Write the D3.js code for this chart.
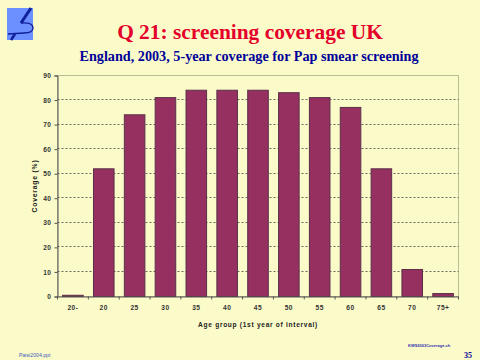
<!DOCTYPE html>
<html><head><meta charset="utf-8">
<script src="https://cdnjs.cloudflare.com/ajax/libs/d3/7.8.5/d3.min.js"></script>
<style>
html,body{margin:0;padding:0;background:#fbfbc9;overflow:hidden}
svg{display:block}
text{font-family:"Liberation Sans",Arial,sans-serif}
.serif{font-family:"Liberation Serif","Times New Roman",serif;font-weight:bold}
</style></head><body>
<svg id="c" width="480" height="360"></svg>
<script>
const categories=["20-","20","25","30","35","40","45","50","55","60","65","70","75+"];
const coverage=[0.5,52,74,81,84,84,84,83,81,77,52,11,1.2];
const yTicks=[0,10,20,30,40,50,60,70,80,90];
const titleText="Q 21: screening coverage UK";
const subtitleText="England, 2003, 5-year coverage for Pap smear screening";
const xLabel="Age group (1st year of interval)";
const yLabel="Coverage (%)";

const svg=d3.select("#c");
const L=57.5,R=458.5,T=75.5,B=296.5;
const x=d3.scaleBand().domain(categories).range([L,R]).paddingInner(1/3).paddingOuter(1/6);
const y=d3.scaleLinear().domain([0,90]).range([B,T]);

// logo
const logo=svg.append("g");
logo.append("rect").attr("x",7).attr("y",8).attr("width",26).attr("height",32).attr("fill","#6c90ff");
logo.append("path").attr("d","M31 8 L21 23").attr("stroke","#10209a").attr("stroke-width",3).attr("fill","none");
logo.append("path").attr("d","M21 23 Q33 22 33 28 Q33 33 24 33 L8 34").attr("stroke","#10209a").attr("stroke-width",1.3).attr("fill","none");
logo.append("path").attr("d","M15 34 L11 40").attr("stroke","#10209a").attr("stroke-width",2.6).attr("fill","none");

svg.append("text").attr("class","serif").attr("x",250).attr("y",39).attr("text-anchor","middle")
  .attr("font-size",21.4).attr("fill","#e4002b").text(titleText);
svg.append("text").attr("class","serif").attr("x",249).attr("y",60.5).attr("text-anchor","middle")
  .attr("font-size",14.2).attr("fill","#000099").text(subtitleText);

// plot frame
svg.append("rect").attr("x",L).attr("y",T).attr("width",R-L).attr("height",B-T)
  .attr("fill","none").attr("stroke","#bdbd95").attr("stroke-width",1);

// gridlines
svg.append("g").selectAll("line").data(yTicks.filter(d=>d>0&&d<90)).join("line")
  .attr("x1",L).attr("x2",R).attr("y1",d=>Math.round(y(d))-.5).attr("y2",d=>Math.round(y(d))-.5)
  .attr("stroke","#444").attr("stroke-width",.8).attr("stroke-dasharray","2 2");

// bars
svg.append("g").selectAll("rect").data(coverage).join("rect")
  .attr("x",(d,i)=>x(categories[i])).attr("width",x.bandwidth())
  .attr("y",d=>y(d)).attr("height",d=>y(0)-y(d))
  .attr("fill","#953060").attr("stroke","#5a3048").attr("stroke-width",1);

// axes
const yAxis=d3.axisLeft(y).tickValues(yTicks).tickSize(3).tickPadding(3);
const gy=svg.append("g").attr("transform",`translate(${L},0)`).call(yAxis);
const xAxis=d3.axisBottom(x).tickSize(0).tickPadding(8.5);
const gx=svg.append("g").attr("transform",`translate(0,${B})`).call(xAxis);
for(const g of [gy,gx]){
  g.selectAll("path.domain").attr("stroke","#555");
  g.selectAll(".tick line").attr("stroke","#555");
  g.selectAll("text").attr("font-size",6.6).attr("font-weight","bold").attr("fill","#333")
   .style("letter-spacing","0.5px").style("font-family",'"Liberation Sans",Arial,sans-serif');
}
// x separators between categories
const step=x.step();
gx.append("g").selectAll("line").data(d3.range(categories.length+1)).join("line")
  .attr("x1",i=>L+i*step).attr("x2",i=>L+i*step).attr("y1",0).attr("y2",3).attr("stroke","#555");

svg.append("text").attr("x",258).attr("y",327).attr("text-anchor","middle")
  .attr("font-size",6.6).attr("font-weight","bold").attr("fill","#222")
  .style("letter-spacing","0.7px").text(xLabel);
svg.append("text").attr("transform","translate(37,186) rotate(-90)").attr("text-anchor","middle")
  .attr("font-size",6.8).attr("font-weight","bold").attr("fill","#222")
  .style("letter-spacing","0.8px").text(yLabel);

// footers
svg.append("text").attr("x",19).attr("y",357).attr("font-size",5.2).attr("fill","#4060c0").text("Paisi2004.ppt");
svg.append("text").attr("x",408).attr("y",347).attr("font-size",4).attr("font-weight","bold").attr("fill","#3030b0").text("KWS2003Coverage.ch");
svg.append("text").attr("class","serif").attr("x",464).attr("y",358).attr("font-size",8).attr("fill","#000099").text("35");
</script>
</body></html>
